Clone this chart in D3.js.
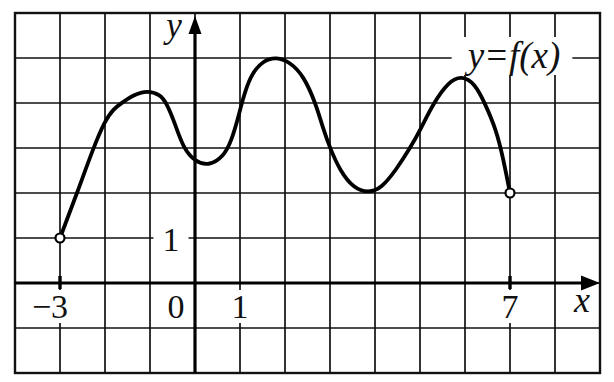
<!DOCTYPE html>
<html>
<head>
<meta charset="utf-8">
<script src="https://cdn.jsdelivr.net/npm/d3@7"></script>
<style>
  html, body { margin: 0; padding: 0; background: #fff; }
  svg { display: block; }
</style>
</head>
<body>
<div id="chart"></div>
<script>
// Graph of y = f(x) on a grid, open ends at x = -3 and x = 7

const xDomain = [-4, 9];
const yDomain = [-2, 6];

// points
const curveX = [-3, -2.62, -2.26, -2.0, -1.81, -1.63, -1.37, -1.06, -0.78, -0.63, -0.44, -0.26, 0, 0.3, 0.63, 0.81, 0.96, 1.04, 1.22, 1.52, 1.81, 2.11, 2.41, 2.68, 2.85, 3.0, 3.22, 3.52, 3.85, 4.15, 4.48, 4.78, 5.0, 5.3, 5.63, 5.93, 6.22, 6.44, 6.7, 6.85, 7];
const curveY = [1, 2, 3, 3.61, 3.87, 4.0, 4.18, 4.28, 4.19, 4.0, 3.53, 3.0, 2.7, 2.6, 2.8, 3.16, 3.68, 4.0, 4.61, 4.95, 5.02, 4.91, 4.61, 4.0, 3.42, 3.0, 2.5, 2.11, 2.0, 2.11, 2.53, 3.0, 3.39, 4.0, 4.47, 4.61, 4.43, 4.0, 3.39, 2.76, 2.0];

// open endpoints
const openX = [-3, 7];
const openY = [1, 2];

// tick labels
const xTickVals = [-3, 0, 1, 7];
const xTickText = ["\u22123", "0", "1", "7"];
const yTickVals = [1];
const yTickText = ["1"];
const curveLabel = "y=f(x)";

const FONT = "'Liberation Serif', 'Times New Roman', 'DejaVu Serif', serif";
const W = 614, H = 382;

const x = d3.scaleLinear().domain(xDomain).range([15, 600]);
const y = d3.scaleLinear().domain(yDomain).range([373, 13]);

const svg = d3.select("#chart").append("svg")
  .attr("width", W).attr("height", H);

svg.append("rect").attr("width", W).attr("height", H).attr("fill", "#fff");

// grid
const gGrid = svg.append("g").attr("stroke", "#111").attr("stroke-width", 1.7);
gGrid.selectAll("line.v")
  .data(d3.range(xDomain[0], xDomain[1] + 1))
  .enter().append("line")
  .attr("x1", d => x(d)).attr("x2", d => x(d))
  .attr("y1", y(yDomain[0])).attr("y2", y(yDomain[1]));
gGrid.selectAll("line.h")
  .data(d3.range(yDomain[0], yDomain[1] + 1))
  .enter().append("line")
  .attr("y1", d => y(d)).attr("y2", d => y(d))
  .attr("x1", x(xDomain[0])).attr("x2", x(xDomain[1]));

svg.append("rect")
  .attr("x", x(xDomain[0])).attr("y", y(yDomain[1]))
  .attr("width", x(xDomain[1]) - x(xDomain[0]))
  .attr("height", y(yDomain[0]) - y(yDomain[1]))
  .attr("fill", "none").attr("stroke", "#111").attr("stroke-width", 2.4);

// labels with white boxes behind them (they cut the grid lines)
const gLabels = svg.append("g");
function label(txt, px, py, opts) {
  const g = gLabels.append("g");
  const bg = g.append("rect").attr("fill", "#fff");
  const t = g.append("text")
    .attr("x", px).attr("y", py)
    .attr("text-anchor", opts.anchor || "middle")
    .attr("font-family", FONT)
    .attr("font-size", opts.size)
    .attr("font-style", opts.italic ? "italic" : "normal")
    .attr("fill", "#111")
    .text(txt);
  const b = t.node().getBBox();
  const padX = opts.padX ?? 4, padY = opts.padY ?? 0;
  bg.attr("x", b.x - padX).attr("y", b.y + padY)
    .attr("width", b.width + 2 * padX).attr("height", b.height - 2 * padY);
  if (opts.noBg) bg.remove();
}

// axes
const gAxes = svg.append("g");
gAxes.append("line")
  .attr("x1", x(xDomain[0])).attr("x2", x(xDomain[1]) - 16)
  .attr("y1", y(0)).attr("y2", y(0))
  .attr("stroke", "#000").attr("stroke-width", 3.2);
gAxes.append("line")
  .attr("x1", x(0)).attr("x2", x(0))
  .attr("y1", y(yDomain[0])).attr("y2", y(yDomain[1]) + 18)
  .attr("stroke", "#000").attr("stroke-width", 3.2);
gAxes.append("path")
  .attr("d", `M${x(xDomain[1])},${y(0)} L${x(xDomain[1]) - 19},${y(0) - 7.5} L${x(xDomain[1]) - 19},${y(0) + 7.5} Z`)
  .attr("fill", "#000");
gAxes.append("path")
  .attr("d", `M${x(0)},${y(yDomain[1]) + 3} L${x(0) - 6.5},${y(yDomain[1]) + 21} L${x(0) + 6.5},${y(yDomain[1]) + 21} Z`)
  .attr("fill", "#000");

// small ticks at the ends of the domain
gAxes.selectAll("line.tick")
  .data(openX)
  .enter().append("line")
  .attr("x1", d => x(d)).attr("x2", d => x(d))
  .attr("y1", y(0) - 7).attr("y2", y(0) + 6)
  .attr("stroke", "#000").attr("stroke-width", 3.4);

xTickVals.forEach((v, i) => {
  const off = v === -3 ? -10 : (v === 0 ? -19 : 0);
  label(xTickText[i], x(v) + off, y(0) + 35, { size: 34, padX: 3, padY: 2 });
});
yTickVals.forEach((v, i) => {
  label(yTickText[i], x(0) - 24, y(v) + 13, { size: 34, padX: 9, padY: 2 });
});
label("y", x(0) - 21, 37, { size: 35, italic: true, noBg: true });
label("x", x(8.6), y(0) + 29, { size: 36, italic: true, noBg: true });
label(curveLabel, 514, 68, { size: 37, italic: true, padX: 12, padY: 2 });

// curve (B-spline through the read points smooths out reading noise)
const pts = curveX.map((d, i) => [d, curveY[i]]);
const line = d3.line()
  .x(d => x(d[0])).y(d => y(d[1]))
  .curve(d3.curveBasis);
svg.append("path")
  .datum(pts)
  .attr("d", line)
  .attr("fill", "none")
  .attr("stroke", "#000")
  .attr("stroke-width", 3.8)
  .attr("stroke-linejoin", "round");

svg.selectAll("circle.open")
  .data(openX.map((d, i) => [d, openY[i]]))
  .enter().append("circle")
  .attr("cx", d => x(d[0])).attr("cy", d => y(d[1]))
  .attr("r", 4.5)
  .attr("fill", "#fff").attr("stroke", "#000").attr("stroke-width", 2.2);
</script>
</body>
</html>
